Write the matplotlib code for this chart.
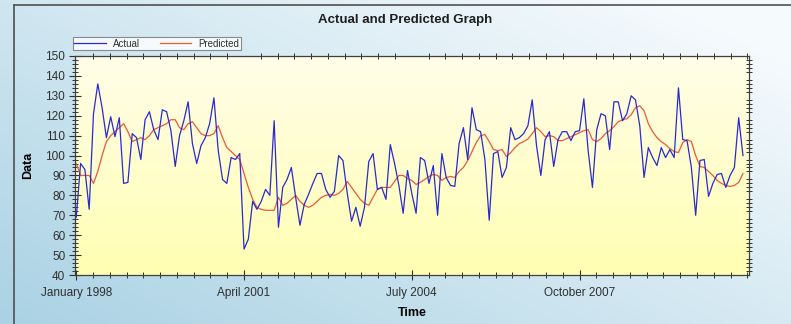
import numpy as np
import pandas as pd
import matplotlib
matplotlib.use('Agg')
import matplotlib.pyplot as plt
from matplotlib.lines import Line2D
from matplotlib.ticker import MultipleLocator, FixedLocator

plt.rcParams['font.family'] = ['Liberation Sans', 'DejaVu Sans']

# Datos mensuales, enero 1998 - diciembre 2010
fechas = pd.date_range('1998-01-01', periods=156, freq='MS')

actual = [
    69, 96, 93, 73, 121, 136, 124, 109, 119.5, 109.5, 119, 86, 86.5, 111, 109, 98,
    118, 122, 113, 108, 123, 122, 112.5, 94.5, 110, 117.5, 127, 106, 96, 105, 109, 116,
    129, 102.5, 88, 86, 99, 98, 101, 53, 58, 77, 73, 77, 83, 80, 117.5, 64,
    84, 88, 94, 79, 65, 75.5, 80.5, 86, 91, 91, 83, 79, 82, 100, 97.5, 81,
    67, 74, 64.5, 74, 97, 101, 83, 84, 78, 105.5, 96, 85, 71, 92.5, 81, 71,
    99, 97.5, 86, 95, 70, 101, 89, 85, 84.5, 106, 114, 98, 124, 113, 112, 98,
    67.5, 101, 102, 89, 94, 114, 108, 109, 111, 115, 128, 105, 90, 108, 112, 94.5,
    108, 112, 112, 107.5, 112, 112.5, 128.5, 102.5, 84, 113, 121, 120, 103, 127, 127, 117.5,
    121, 130, 128, 115, 89, 104, 99, 95, 104, 99, 103, 99, 134, 108, 107.5, 94,
    70, 97.5, 98, 79.5, 86, 90.5, 91, 84, 90, 94, 119, 100,
]

predicho = [
    96, 90, 90, 90, 86, 92, 100, 107, 110, 112, 114, 116, 112, 107, 108, 109,
    108, 110, 113, 114, 115, 116, 118, 118, 114, 113, 116, 117, 114, 111, 110, 110,
    111, 115, 109, 104, 102, 100, 98, 91, 84, 78, 74, 73, 72.5, 72.5, 72.5, 79,
    75, 76, 78, 80, 77, 75, 74, 75, 77, 79, 80, 80.5, 80, 81, 83, 87,
    84, 81, 78, 76, 75, 79, 83, 84, 84, 84, 87, 90, 90, 88.5, 87.5, 85.5,
    86.5, 88, 89.5, 90.5, 90, 87.5, 89, 89.5, 89, 92, 94, 97.5, 102, 106.5, 110, 110.5,
    107, 103, 102.5, 103, 99.5, 101.5, 104, 106, 107, 108.3, 111, 114, 112, 109.5, 110, 109.5,
    107.5, 107.5, 108.5, 109.5, 110.5, 111.5, 112.5, 113, 108, 107, 108.5, 111, 112.5, 114.5, 117, 118,
    118.5, 120.5, 124, 125, 122.5, 116, 112, 109, 107, 105.5, 103.5, 102, 101.5, 106.5, 108, 107,
    100, 94.5, 94, 92, 90, 87.5, 86, 85, 84.5, 85, 86.5, 91,
]

posiciones_etiquetas = [0, 39, 78, 117]
etiquetas_x = [fechas[i].strftime('%B %Y') for i in posiciones_etiquetas]

W, H = 791, 324
fig = plt.figure(figsize=(W / 100, H / 100), dpi=100)

# Fondo azul degradado
fondo = fig.add_axes([0, 0, 1, 1], zorder=-10)
xx, yy = np.meshgrid(np.linspace(0, 1, 200), np.linspace(1, 0, 100))
u = np.clip(0.6 * (1 - xx) + 0.5 * (1 - yy) - 0.1, 0, 1)
claro = np.array([245, 250, 253]) / 255
oscuro = np.array([170, 210, 228]) / 255
img = claro[None, None, :] * (1 - u[..., None]) + oscuro[None, None, :] * u[..., None]
fondo.imshow(img, extent=[0, 1, 0, 1], aspect='auto', origin='upper')
fondo.set_axis_off()

# Marco
fig.add_artist(Line2D([14 / W, 14 / W], [0, 1 - 5 / H], color='#505050', lw=1.2))
fig.add_artist(Line2D([14 / W, 1], [1 - 5 / H, 1 - 5 / H], color='#505050', lw=1.2))

ax = fig.add_axes([75 / W, 1 - 275 / H, 674 / W, 219 / H])

# Degradado amarillo del área de trazado
gy = np.linspace(0, 1, 100)[:, None]
top_c = np.array([255, 253, 232]) / 255
bot_c = np.array([255, 255, 178]) / 255
grad = top_c[None, :] * (1 - gy) + bot_c[None, :] * gy
grad = np.repeat(grad[:, None, :], 2, axis=1)
ax.imshow(grad, extent=[0, 1, 0, 1], transform=ax.transAxes, aspect='auto', zorder=0)

x = np.arange(len(fechas))
ax.plot(x, actual, color='#2a2ad2', lw=0.9, label='Actual', zorder=3)
ax.plot(x, predicho, color='#ea5a3a', lw=0.9, label='Predicted', zorder=2)

ax.set_xlim(-0.3, 156.4)
ax.set_ylim(40, 150)

ax.xaxis.set_major_locator(FixedLocator(posiciones_etiquetas))
ax.set_xticklabels(etiquetas_x)
ax.xaxis.set_minor_locator(MultipleLocator(3.9))
ax.yaxis.set_major_locator(MultipleLocator(10))
ax.yaxis.set_minor_locator(MultipleLocator(2))

ax.tick_params(axis='both', which='major', labelsize=8.5, colors='#303030', width=0.8)
ax.tick_params(axis='x', which='major', direction='inout', length=7, pad=5, top=False)
ax.tick_params(axis='x', which='minor', direction='inout', length=4, width=0.7, top=True, colors='#303030')
ax.tick_params(axis='y', which='major', direction='inout', length=8, pad=3, right=False)
ax.tick_params(axis='y', which='minor', direction='inout', length=4, width=0.7, right=True, colors='#303030')

for s in ax.spines.values():
    s.set_color('#404040')
    s.set_linewidth(0.9)

ax.set_xlabel('Time', fontsize=9, fontweight='bold')
ax.set_ylabel('Data', fontsize=9, fontweight='bold')
ax.xaxis.set_label_coords(0.5, -0.145)
ax.yaxis.set_label_coords(-0.06, 0.5)

fig.text(0.512, 1 - 20 / H, 'Actual and Predicted Graph', ha='center', va='center',
         fontsize=9.5, fontweight='bold', color='#202020')

leg = ax.legend(loc='lower left', bbox_to_anchor=(-0.003, 1.027, 0.249, 0.06), mode='expand',
                ncol=2, fontsize=7, frameon=True, fancybox=False, borderpad=0.15,
                handlelength=3.2, handletextpad=0.8, borderaxespad=0, columnspacing=1.5)
leg.get_frame().set_edgecolor('#707070')
leg.get_frame().set_linewidth(0.8)
for t in leg.get_texts():
    t.set_color('#303030')

plt.savefig('out.png', dpi=100)
plt.close()
